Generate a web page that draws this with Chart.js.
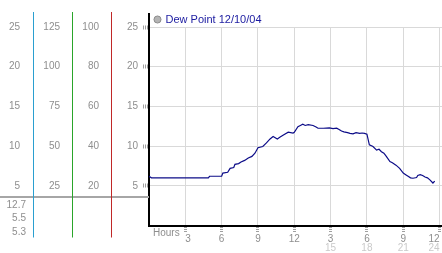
<!DOCTYPE html>
<html><head><meta charset="utf-8">
<script src="https://cdn.jsdelivr.net/npm/chart.js@4.4.1/dist/chart.umd.min.js"></script>
<style>html,body{margin:0;padding:0;background:#fff;overflow:hidden}canvas{display:block}</style>
</head><body>
<canvas id="c" width="442" height="253"></canvas>
<script>
const SERIES_LABEL = 'Dew Point 12/10/04';
const HOURS = [0.0,0.2,1,2,3,4,4.9,5.0,6.0,6.1,6.5,6.7,7.0,7.1,7.4,7.6,7.9,8.2,8.5,8.75,9.0,9.4,9.7,10.0,10.25,10.6,10.8,11.1,11.5,11.9,12.0,12.3,12.5,12.7,12.9,13.15,13.55,13.8,13.96,14.4,14.9,15.2,15.5,15.7,15.9,16.1,16.4,16.6,16.85,17.1,17.4,17.6,17.8,18.0,18.2,18.5,18.8,19.0,19.2,19.4,19.6,19.9,20.1,20.4,20.7,21.0,21.2,21.4,21.6,21.8,22.1,22.2,22.4,22.6,22.8,23.0,23.2,23.45,23.6];
const DEW = [6.2,6.0,6.0,6.0,6.0,6.0,6.0,6.2,6.2,6.6,6.7,7.2,7.3,7.7,7.8,8.0,8.2,8.5,8.7,9.1,9.8,9.95,10.4,10.9,11.2,10.9,11.1,11.4,11.75,11.65,11.75,12.45,12.6,12.75,12.6,12.7,12.6,12.4,12.25,12.25,12.3,12.2,12.25,12.1,11.9,11.8,11.7,11.6,11.55,11.7,11.6,11.65,11.6,11.5,10.15,9.95,9.5,9.6,9.3,9.1,8.7,8.05,7.9,7.6,7.2,6.6,6.4,6.2,6.0,5.95,6.05,6.3,6.4,6.3,6.1,6.0,5.75,5.35,5.6];
const Y_TICKS = [5,10,15,20,25];
const COL1_TICKS = [5,10,15,20,25];
const COL2_TICKS = [25,50,75,100,125];
const COL3_TICKS = [20,40,60,80,100];
const X_TICKS = [3,6,9,12,15,18,21,24];
const X_LABELS = ['3','6','9','12','3','6','9','12'];
const X_LABELS_24 = ['','','','','15','18','21','24'];
const STATS = ['12.7','5.5','5.3'];
const AXIS_TITLE = 'Hours';

const FONT = '"Liberation Sans", Arial, sans-serif';
const TICK_COLOR = '#8e8e8e';
const COL_COLORS = { yc1: '#2a9fd0', yc2: '#2aa52a', yc3: '#c02828' };

function colAxis(id, weight, max, ticks, pad, width) {
  return {
    type: 'linear', axis: 'y', position: 'left', weight: weight, min: 0, max: max,
    afterBuildTicks: s => { s.ticks = ticks.map(v => ({value: v})); },
    ticks: { padding: pad, color: TICK_COLOR, font: {family: FONT, size: 10} },
    grid: { display: false, drawTicks: false, tickLength: 0 },
    border: { display: true, color: COL_COLORS[id], width: 1 },
    afterFit: s => { s.width = width; }
  };
}

const decor = {
  id: 'decor',
  beforeDatasetsDraw(chart) {
    const {ctx, chartArea: a, scales} = chart;
    ctx.save();
    ctx.fillStyle = '#a6a6a6';
    ctx.fillRect(0, a.bottom - 29.5, a.left, 2);
    ['yc1', 'yc2', 'yc3'].forEach(id => {
      const s = scales[id];
      ctx.fillStyle = COL_COLORS[id];
      ctx.fillRect(Math.round(s.right), a.top - 15, 1, 15);
      ctx.fillRect(Math.round(s.right), a.bottom - 30, 1, 42);
    });
    ctx.fillStyle = '#000000';
    ctx.fillRect(a.left - 1, a.top - 14, 2, 14);
    ctx.font = '10px ' + FONT;
    ctx.fillStyle = TICK_COLOR;
    ctx.textAlign = 'left';
    ctx.textBaseline = 'alphabetic';
    ctx.fillText(AXIS_TITLE, a.left + 4, a.bottom + 10);
    ctx.textAlign = 'right';
    STATS.forEach((t, i) => ctx.fillText(t, scales.yc1.right - 7, a.bottom - 17.5 + i * 13.3));
    ctx.restore();
  }
};

new Chart(document.getElementById('c'), {
  type: 'line',
  data: {
    datasets: [{
      label: SERIES_LABEL,
      data: HOURS.map((h, i) => ({x: h, y: DEW[i]})),
      borderColor: '#0c0c88',
      backgroundColor: '#b4b4b4',
      borderWidth: 1.2,
      pointRadius: 0,
      fill: false,
      tension: 0
    }]
  },
  options: {
    responsive: false,
    animation: false,
    devicePixelRatio: 1,
    layout: { padding: { top: 8, left: 0, right: 0, bottom: 0 } },
    plugins: {
      tooltip: { enabled: false },
      legend: {
        position: 'top', align: 'start', fullSize: false, maxHeight: 19,
        labels: {
          usePointStyle: true, pointStyle: 'circle', boxWidth: 5, boxHeight: 5, padding: 6,
          color: '#1a1aa0', font: { family: FONT, size: 11 },
          generateLabels: chart => {
            const items = Chart.defaults.plugins.legend.labels.generateLabels(chart);
            items.forEach(it => { it.fillStyle = '#b4b4b4'; it.strokeStyle = '#8c8c8c'; it.lineWidth = 1; });
            return items;
          }
        }
      }
    },
    scales: {
      x: {
        type: 'linear', axis: 'x', position: 'bottom', weight: 0, min: 0, max: 24.2,
        afterBuildTicks: s => { s.ticks = X_TICKS.map(v => ({value: v})); },
        ticks: { autoSkip: false, maxRotation: 0, padding: 1, align: 'inner', color: TICK_COLOR, font: {family: FONT, size: 10},
          callback: v => X_LABELS[X_TICKS.indexOf(v)] },
        grid: { color: '#d9d9d9', lineWidth: 1, tickLength: 7, tickColor: '#a0a0a0', tickWidth: 3, tickBorderDash: [1, 1] },
        border: { color: '#000', width: 2 },
        afterFit: s => { s.height = 17; s.paddingLeft = 0; s.paddingRight = 0; }
      },
      xb: {
        type: 'linear', axis: 'x', position: 'bottom', weight: 1, min: 0, max: 24.2,
        afterBuildTicks: s => { s.ticks = X_TICKS.map(v => ({value: v})); },
        ticks: { autoSkip: false, maxRotation: 0, padding: 0, align: 'inner', color: '#cacaca', font: {family: FONT, size: 10},
          callback: v => X_LABELS_24[X_TICKS.indexOf(v)] },
        grid: { display: false, drawTicks: false, tickLength: 0 },
        border: { display: false },
        afterFit: s => { s.height = 10.5; s.paddingLeft = 0; s.paddingRight = 0; }
      },
      y: {
        type: 'linear', axis: 'y', position: 'left', weight: 0, min: 0, max: 25,
        afterBuildTicks: s => { s.ticks = Y_TICKS.map(v => ({value: v})); },
        ticks: { padding: 5, color: TICK_COLOR, font: {family: FONT, size: 10} },
        grid: { color: '#d9d9d9', lineWidth: 1, tickLength: 6, tickColor: '#a0a0a0', tickWidth: 4, tickBorderDash: [1, 1] },
        border: { color: '#000', width: 2 },
        afterFit: s => { s.width = 38; }
      },
      yc3: colAxis('yc3', 1, 100, COL3_TICKS, 12, 39),
      yc2: colAxis('yc2', 2, 125, COL2_TICKS, 12, 39),
      yc1: colAxis('yc1', 3, 25, COL1_TICKS, 13, 33)
    }
  },
  plugins: [decor]
});
</script>
</body></html>
